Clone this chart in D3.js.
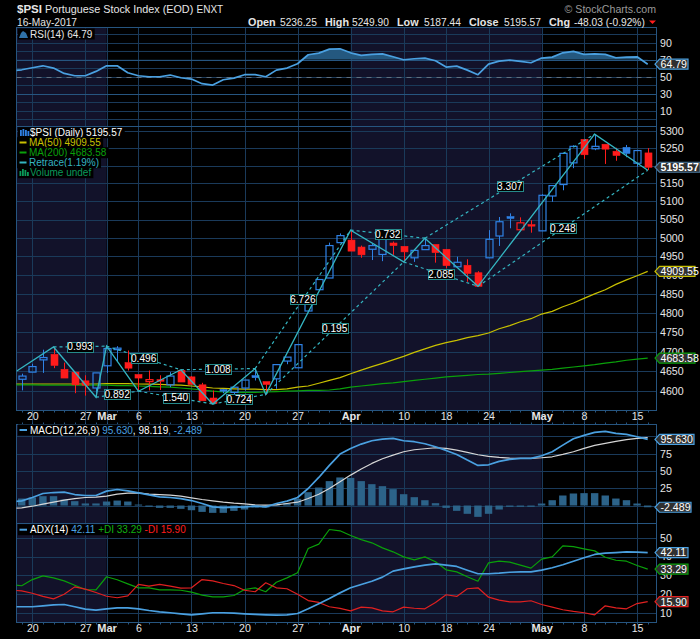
<!DOCTYPE html>
<html><head><meta charset="utf-8">
<script src="https://cdn.jsdelivr.net/npm/d3@7"></script>
<style>html,body{margin:0;padding:0;background:#000}svg{display:block}text{font-family:"Liberation Sans",Arial,sans-serif}</style>
</head><body><svg id="c" width="700" height="639"></svg>
<script>
// ---- data ----
const tickIndex=[1,6,8,11,16,21,26,31,36,40,44,49,53,58];
const tickLabels=["20","27","Mar","6","13","20","27","Apr","10","18","24","May","8","15"];
const monthLabels=["Mar","Apr","May"];
const shadedSpans=[[-1,8],[31,49]];
const opens=[4630,4648,4679,4693,4655,4648,4626,4608,4664,4707,4672,4642,4624,4629,4616,4652,4636,4616,4583,4604,4597,4608,4639,4624,4631,4676,4659,4805,4861,4892,4987,4994,4975,4969,4955,4986,4977,4946,4968,4982,4969,4922,4926,4906,4946,5005,5058,5022,5036,5019,5115,5147,5208,5275,5248,5261,5241,5252,5207,5236.25];
const highs=[4644,4669,4705,4712,4672,4648,4640,4646,4714,4714,4703,4642,4652,4640,4648,4655,4638,4621,4602,4606,4610,4628,4657,4624,4667,4686,4718,4824,4888,4987,5012,5021,4979,4985,4998,4990,4977,4966,4999,4982,4969,4949,4942,4910,5021,5057,5067,5056,5048,5120,5144,5235,5258,5275,5290,5261,5251,5259,5243,5249.90];
const lows=[4602,4648,4646,4658,4633,4595,4589,4585,4646,4675,4652,4600,4602,4603,4610,4623,4617,4576,4568,4595,4589,4602,4627,4592,4606,4668,4659,4805,4861,4892,4987,4964,4946,4940,4937,4954,4935,4935,4968,4933,4918,4922,4882,4870,4946,4978,5026,5022,5014,5019,5099,5131,5193,5219,5244,5205,5214,5224,5197,5187.44];
const closes=[4638,4662,4685,4665,4633,4616,4615,4646,4708,4709,4658,4633,4629,4625,4638,4623,4617,4576,4569,4600,4610,4628,4634,4617,4667,4686,4718,4824,4888,4979,5006,4964,4954,4979,4998,4979,4962,4966,4979,4960,4925,4934,4904,4870,4996,5044,5053,5041,5033,5117,5144,5235,5255,5231,5255,5247,5229,5235,5243,5195.57];
// line series start one trading day before the first candle (clipped by the panel edge)
const ma50=[4618,4618,4618,4618,4618,4618,4618,4618,4618,4619,4619,4619,4618,4617.5,4617,4616,4615,4613,4611,4608,4607,4606,4605,4605,4604,4604,4606,4610,4613,4620,4627,4634,4644,4653,4662,4670,4679,4688,4698,4707,4716,4723,4729,4736,4741,4748,4759,4767,4777,4785,4797,4804,4816,4826,4838,4850,4861,4875,4887,4898,4909.55];
const ma200=[4616,4616,4616,4615,4615,4615,4615,4615,4615,4615,4614,4614,4613,4612,4611,4610,4608,4606,4603,4600,4598,4597,4597,4597,4598,4599,4600,4601,4602,4602,4603,4606,4610,4613,4616,4619,4621,4624,4627,4630,4633,4636,4638,4640,4642,4643,4645,4647,4649,4651,4653,4655,4658,4661,4664,4667,4671,4674,4678,4681,4683.58];
const rsi=[56.7,58.2,60.6,62.9,60.2,53.9,51.2,51.2,56.3,62.9,62.9,54.7,51.2,50,50,52,48.8,47.3,41.8,40.2,46.5,48.4,52.4,52.4,50,57.8,60.2,65.3,75.9,77.8,82.5,82.9,78.2,75.1,76.3,77,73.5,70,71.2,72,68.8,61.4,62.5,57.8,52.4,64.9,68.4,69.6,68,66.5,72,73.1,78.2,79.8,76.3,77,76.3,72.4,73.1,73.5,64.79];
const macd=[5.3,6.8,11.6,17.4,18.8,19.3,15.9,14.5,14.5,20.8,23.2,21.3,18.4,15.5,12.6,11.6,10.1,7.2,2.9,-1.9,-2.9,-2.4,-1.9,-1,-1.9,2.9,6.3,11.6,24.6,40.6,58,74.4,82.6,88.9,93.7,96.1,97.1,93.7,92.3,89.4,85,79.7,73.9,65.7,58,58.9,63.8,66.7,68.1,68.1,72,77.8,87.4,96.6,101.4,105.8,107.2,104.3,102.9,99.5,95.63];
const signal=[-4.3,-3.4,-1,1.9,4.8,7.7,10.1,11.6,12.1,13.5,16.4,17.9,18.4,16.4,15.9,15,13.5,11.1,8.7,6.8,4.8,3.4,2.4,1,0.5,1,2.9,4.8,10.1,16.4,24.6,34.3,44,52.7,60.9,67.6,72.9,77.8,80.7,82.1,83.6,82.6,80.2,76.8,73.4,71,69.6,68.6,68.1,68.1,69.1,70.5,73.9,77.8,82.6,87,89.9,92.8,95.2,97.1,98.119];
const hist=[10.1,11.6,13.5,13.5,8.7,6.3,3,3,5.8,7.2,5.8,1.4,-1.9,-3.4,-3.4,-4.8,-6.8,-9.2,-10.6,-10.6,-7.7,-5.8,-2.9,-2.9,1.4,3,9.7,19.3,26,35.3,40.6,40,35.3,30.9,28,23.7,16.4,12.1,7.7,3.4,-3.4,-7.7,-12,-16.4,-12,-5.8,-1.9,-1.9,-1.9,2.9,7.7,14.5,17.4,17.9,17.9,14.5,10.1,7.7,2.9,-2.489];
const adx=[13.2,13.2,13.2,13.7,14.2,14.4,13.2,11.9,11.4,12.1,12.6,12.6,12.1,11.2,10.5,10,9.4,8.9,9.4,10,10,9.8,9.4,9.1,8.9,8.7,8.9,9.6,12.1,14.8,17.6,20.6,23.3,25.1,26.8,29,32.2,33.4,34.5,35.4,36.1,35.4,34.7,32.7,30.8,30.8,31.1,31.6,31.8,31.8,32.7,34,35.6,37.5,39.3,41.1,41.8,42.1,42.5,42.3,42.11];
const plusDI=[25,24.4,27.7,29.7,28.6,27,24.7,22.4,22.2,29.2,27.6,25.4,23.3,23.3,22.2,22.2,22,21,19.4,18.5,18.5,19.2,22.4,23.3,21.2,26.3,28.6,31.3,44.3,46.6,54.4,53.7,51.2,49,47.3,44.6,42.5,39.8,38.2,39.8,37.2,32.9,31.8,29.2,26.8,36.6,37.5,37,35.4,33.8,38.6,39.8,45.7,45.3,44.1,43,39.6,38,37.5,35.2,33.29];
const minusDI=[22,21.7,20.4,18.7,17.4,19.9,23.8,22.6,20.8,18.8,18,19,25.1,24.2,25.1,24.2,23.1,23.3,27.7,27,25.6,24.5,22,21.2,26,23.3,22.8,19.9,16.5,15.5,13.2,12.3,11,13,12.6,11,10.5,13,12.4,12.1,15.5,19.6,18.7,22.8,23.3,18.3,16.7,15.8,15.8,16.4,14.4,13,11.6,10.7,10,8.9,13.7,12.6,12.1,14.9,15.9];
const retraceIdx=[-0.5,3,7,8,11,15,18,22,23,31,36,38,43,54,59];
const retracePrice=[4650,4712,4585,4714,4600,4654,4568,4657,4592,5021,4935,4999,4870,5290,5187];
const retraceRatios=["0.993","0.892","0.496","1.540","1.008","0.724","6.726","0.195","0.732","2.085","3.307","0.248"];
const rsiTicks=[90,70,50,30,10], rsiGrid=[100,90,80,70,60,50,40,30,20,10,0];
const priceTicks=[5300,5250,5200,5150,5100,5050,5000,4950,4900,4850,4800,4750,4700,4650,4600];
const macdTicks=[75,50,25], macdGrid=[100,75,50,25,0];
const adxTicks=[50,40,30,20,10];
const headerItems=[["Open","5236.25",248,280],["High","5249.90",325,352],["Low","5187.44",397,424],["Close","5195.57",469,504],["Chg","-48.03 (-0.92%)",549,574]];

// ---- layout & styles ----
const L=16.5,R=656.5,BG="#12122a",GRID="#1a3a5a",BORDER="#265580",TXT="#e6e6e6";
const BLUE="#4aa0e0",CBLUE="#2f82e6",CRED="#ff1c1c",TEAL="#34b4c0",YEL="#c8c000",GRN="#0aa00a",DIRED="#e02020";
const panels={rsi:[27.5,126.5],price:[126.5,410.5],macd:[424.5,523.5],adx:[523.5,622.5]};
const svg=d3.select("#c");
const x=d3.scaleLinear().domain([0,59]).range([21.7,647.7]);
const xi=i=>x(i-1);  // for line series with the leading day
const yRsi=d3.scaleLinear().domain([-8.6,108]).range([panels.rsi[1],panels.rsi[0]]);
const yPrice=d3.scaleLog().domain([4552,5312]).range([panels.price[1],panels.price[0]]);
const yMacd=d3.scaleLinear().domain([-26,117.2]).range([panels.macd[1],panels.macd[0]]);
const yAdx=d3.scaleLinear().domain([4.8,57.6]).range([panels.adx[1],panels.adx[0]]);

const defs=svg.append("defs");
Object.entries(panels).forEach(([k,[a,b]])=>{
  defs.append("clipPath").attr("id","clip-"+k).append("rect").attr("x",L).attr("y",a).attr("width",R-L).attr("height",b-a);
});
defs.append("clipPath").attr("id","clip-r70").append("rect").attr("x",L).attr("y",panels.rsi[0]).attr("width",R-L).attr("height",yRsi(70)-panels.rsi[0]);

function frame(key,grid,yS){
  const [a,b]=panels[key];
  const g=svg.append("g");
  shadedSpans.forEach(([s,e])=>g.append("rect").attr("x",Math.max(L,x(s))).attr("y",a).attr("width",x(e)-Math.max(L,x(s))).attr("height",b-a).attr("fill",BG));
  g.selectAll(".h").data(grid).join("line").attr("x1",L).attr("x2",R).attr("y1",d=>Math.round(yS(d))+.5).attr("y2",d=>Math.round(yS(d))+.5).attr("stroke",GRID).attr("stroke-width",1);
  g.selectAll(".v").data(tickIndex).join("line").attr("x1",d=>Math.round(x(d))+.5).attr("x2",d=>Math.round(x(d))+.5).attr("y1",a).attr("y2",b).attr("stroke",GRID).attr("stroke-width",1);
  g.append("rect").attr("x",L).attr("y",a).attr("width",R-L).attr("height",b-a).attr("fill","none").attr("stroke",BORDER).attr("stroke-width",1);
  return g;
}
function yAxis(yS,ticks,fmt){
  const g=svg.append("g").attr("transform",`translate(${R},0)`).call(d3.axisRight(yS).tickValues(ticks).tickSize(0).tickPadding(3.5).tickFormat(fmt||d3.format("d")));
  g.select(".domain").remove();
  g.selectAll("text").attr("fill",TXT).attr("font-size",10.6);
}
function xAxis(yPos){
  const g=svg.append("g").attr("transform",`translate(0,${yPos})`).call(d3.axisBottom(x).tickValues(tickIndex).tickSize(0).tickPadding(2).tickFormat((d,i)=>tickLabels[i]));
  g.select(".domain").remove();
  g.selectAll("text").attr("fill",TXT)
    .attr("font-size",(d,i)=>monthLabels.includes(tickLabels[i])?11:10.6)
    .attr("font-weight",(d,i)=>monthLabels.includes(tickLabels[i])?"bold":"normal");
}
// vertical grid through the date band, and one small tick per trading day
const dayIdx=closes.map((d,i)=>i);
svg.append("g").selectAll("line").data(tickIndex).join("line")
  .attr("x1",d=>Math.round(x(d))+.5).attr("x2",d=>Math.round(x(d))+.5).attr("y1",panels.price[1]).attr("y2",panels.macd[0]).attr("stroke",GRID);
function dayTicks(yPos,dir){
  svg.append("g").selectAll("line").data(dayIdx).join("line")
    .attr("x1",d=>Math.round(x(d))+.5).attr("x2",d=>Math.round(x(d))+.5).attr("y1",yPos).attr("y2",yPos+dir*2).attr("stroke",BORDER);
}
const lineOf=yS=>d3.line().x((d,i)=>xi(i)).y(d=>yS(d));
function drawLine(key,yS,data,color,w){
  svg.append("path").attr("clip-path",`url(#clip-${key})`).attr("d",lineOf(yS)(data)).attr("fill","none").attr("stroke",color).attr("stroke-width",w||1.5).attr("stroke-linejoin","round");
}

// RSI
frame("rsi",rsiGrid,yRsi);
svg.append("line").attr("x1",L).attr("x2",R).attr("y1",Math.round(yRsi(50))+.5).attr("y2",Math.round(yRsi(50))+.5).attr("stroke","#5f6f7f").attr("stroke-width",1).attr("stroke-dasharray","5,5");
[70,30].forEach(v=>svg.append("line").attr("x1",L).attr("x2",R).attr("y1",Math.round(yRsi(v))+.5).attr("y2",Math.round(yRsi(v))+.5).attr("stroke",BORDER));
svg.append("path").attr("clip-path","url(#clip-r70)").attr("fill","#24587f")
  .attr("d",d3.area().x((d,i)=>xi(i)).y0(yRsi(70)).y1(d=>yRsi(d))(rsi));
drawLine("rsi",yRsi,rsi,BLUE,1.7);
yAxis(yRsi,rsiTicks);

// Price
frame("price",priceTicks,yPrice);
drawLine("price",yPrice,ma50,YEL,1.2);
drawLine("price",yPrice,ma200,GRN,1.2);
const W=7;
const candles=svg.append("g").attr("clip-path","url(#clip-price)");
closes.forEach((c,i)=>{
  const o=opens[i],up=i===0||c>=closes[i-1],col=up?CBLUE:CRED,hollow=c>=o;
  const top=yPrice(Math.max(o,c)),bot=yPrice(Math.min(o,c)),cx=Math.round(x(i))+.5;
  candles.append("line").attr("x1",cx).attr("x2",cx).attr("y1",yPrice(highs[i])).attr("y2",top).attr("stroke",col).attr("stroke-width",1);
  candles.append("line").attr("x1",cx).attr("x2",cx).attr("y1",bot).attr("y2",yPrice(lows[i])).attr("stroke",col).attr("stroke-width",1);
  candles.append("rect").attr("x",cx-W/2).attr("y",top).attr("width",W).attr("height",Math.max(bot-top,1.5))
    .attr("fill",hollow?"none":col).attr("stroke",col).attr("stroke-width",hollow?1.2:0.6);
});
// Retrace
const retrace=svg.append("g").attr("clip-path","url(#clip-price)");
const px=retraceIdx.map(d=>x(d)),py=retracePrice.map(d=>yPrice(d));
retrace.append("path").attr("d",d3.line()(px.map((v,i)=>[v,py[i]]))).attr("fill","none").attr("stroke",TEAL).attr("stroke-width",1.3);
retraceRatios.forEach((t,k)=>{
  const a=k+1,b=k+3;
  retrace.append("line").attr("x1",px[a]).attr("y1",py[a]).attr("x2",px[b]).attr("y2",py[b]).attr("stroke",TEAL).attr("stroke-width",1.2).attr("stroke-dasharray","3,3");
});
retraceRatios.forEach((t,k)=>{
  const a=k+1,b=k+3,mx=(px[a]+px[b])/2,my=(py[a]+py[b])/2;
  const g=svg.append("g");
  g.append("rect").attr("x",Math.round(mx-13)+.5).attr("y",Math.round(my-5)+.5).attr("width",26).attr("height",10).attr("fill","#000").attr("stroke","#258a8a").attr("stroke-width",1);
  g.append("text").attr("x",mx).attr("y",my+3.8).attr("text-anchor","middle").attr("fill","#fff").attr("font-size",10.2).text(t);
});
yAxis(yPrice,priceTicks,d3.format("d"));
xAxis(panels.price[1]);
dayTicks(panels.price[1],1);
dayTicks(panels.macd[0],-1);
dayTicks(panels.adx[1],1);

// MACD
frame("macd",macdGrid,yMacd);
svg.append("g").attr("clip-path","url(#clip-macd)").selectAll("rect").data(hist).join("rect")
  .attr("x",(d,i)=>x(i)-3.7).attr("width",7.4).attr("y",d=>Math.min(yMacd(d),yMacd(0))).attr("height",d=>Math.abs(yMacd(d)-yMacd(0)))
  .attr("fill","#2c6389");
drawLine("macd",yMacd,signal,"#d6d6d6",1.2);
drawLine("macd",yMacd,macd,BLUE,1.7);
yAxis(yMacd,macdTicks);

// ADX
frame("adx",adxTicks,yAdx);
drawLine("adx",yAdx,plusDI,GRN,1.2);
drawLine("adx",yAdx,minusDI,DIRED,1.2);
drawLine("adx",yAdx,adx,BLUE,1.7);
yAxis(yAdx,adxTicks);
xAxis(panels.adx[1]);

// value tags
function tag(yPos,txt,stroke,w,opts={}){
  const g=svg.append("g");
  const a=R-1.5,h=5,b=a+4.5;
  g.append("path").attr("d",`M${a},${yPos}L${b},${yPos-h}L${a+w},${yPos-h}L${a+w},${yPos+h}L${b},${yPos+h}Z`)
    .attr("fill",opts.fill||"#303030").attr("stroke",stroke).attr("stroke-width",1.2);
  g.append("text").attr("x",b+1).attr("y",yPos+3.9).attr("fill","#fff").attr("font-size",opts.size||10.6).attr("font-weight",opts.bold?"bold":"normal").text(txt);
}
tag(yRsi(64.79),"64.79",BLUE,33);
tag(yPrice(5195.57),"5195.57","#4a7aa0",45,{bold:true,size:10.6});
tag(yPrice(4909.55),"4909.55",YEL,40);
tag(yPrice(4683.58),"4683.58",GRN,40);
tag(yMacd(95.63),"95.630",BLUE,39);
tag(yMacd(-2.489),"-2.489",BLUE,36);
tag(yAdx(42.11),"42.11",BLUE,33);
tag(yAdx(33.29),"33.29",GRN,33);
tag(yAdx(15.9),"15.90",DIRED,33);

// legends
function legend(xp,yc,parts,fs){
  const t=svg.append("text").attr("x",xp).attr("y",yc+3.6).attr("font-size",fs||10);
  parts.forEach(([s,c])=>t.append("tspan").attr("fill",c).text(s));
  const bb=t.node().getBBox();
  svg.insert("rect",()=>t.node()).attr("x",xp-12).attr("y",yc-5.5).attr("width",bb.width+14).attr("height",11).attr("fill","#000");
  return t;
}
legend(30,34,[["RSI(14) 64.79",TXT]]);
svg.append("path").attr("d","M19,38L21,33L23,31L26,33L28,38Z").attr("fill","#2f72a8");
legend(30,132.7,[["$PSI (Daily) 5195.57","#fff"]]);
[[20,130,6],[22.5,129,7],[25,130,6],[27.5,131,5]].forEach(([a,b,c])=>svg.append("rect").attr("x",a).attr("y",b).attr("width",1.8).attr("height",c).attr("fill",CBLUE));
legend(29,142.7,[["MA(50) 4909.55",YEL]]);
svg.append("rect").attr("x",19.5).attr("y",141.5).attr("width",7).attr("height",2).attr("fill",YEL);
legend(29,152.7,[["MA(200) 4683.58",GRN]]);
svg.append("rect").attr("x",19.5).attr("y",151.5).attr("width",7).attr("height",2).attr("fill",GRN);
legend(29,162.7,[["Retrace(1.19%)",TEAL]]);
svg.append("rect").attr("x",19.5).attr("y",161.5).attr("width",7).attr("height",2).attr("fill",TEAL);
legend(30,172.7,[["Volume undef","#0a9a5a"]]);
[[19.5,171,5],[22,169,7],[24.5,170,6],[27,172,4]].forEach(([a,b,c])=>svg.append("rect").attr("x",a).attr("y",b).attr("width",1.8).attr("height",c).attr("fill","#0a9a5a"));
legend(30,430,[["MACD(12,26,9) ","#fff"],["95.630",BLUE],[", 98.119","#fff"],[", -2.489",BLUE]]);
svg.append("rect").attr("x",19.5).attr("y",429).attr("width",7.5).attr("height",2).attr("fill",BLUE);
legend(30,529.7,[["ADX(14) ","#fff"],["42.11 ",BLUE],["+DI 33.29 ","#10b010"],["-DI 15.90",CRED]]);
svg.append("rect").attr("x",19.5).attr("y",528.7).attr("width",7.5).attr("height",2).attr("fill",BLUE);

// header
svg.append("text").attr("x",17).attr("y",13).attr("font-size",11.5).attr("font-weight","bold").attr("fill",TXT).text("$PSI");
svg.append("text").attr("x",45).attr("y",13).attr("font-size",10.8).attr("fill",TXT).text("Portuguese Stock Index (EOD)");
svg.append("text").attr("x",196.5).attr("y",13).attr("font-size",10).attr("fill",TXT).text("ENXT");
svg.append("text").attr("x",17).attr("y",25.5).attr("font-size",10.2).attr("fill",TXT).text("16-May-2017");
headerItems.forEach(([k,v,a,b])=>{
  svg.append("text").attr("x",a).attr("y",25.5).attr("font-size",10.8).attr("font-weight","bold").attr("fill",TXT).text(k);
  svg.append("text").attr("x",b).attr("y",25.5).attr("font-size",10.2).attr("fill",TXT).text(v);
});
svg.append("path").attr("d","M649,20.5L656,20.5L652.5,24Z").attr("fill",CRED);
svg.append("text").attr("x",656).attr("y",13).attr("text-anchor","end").attr("font-size",10.6).attr("fill","#9a9a9a").text("© StockCharts.com");
</script></body></html>
